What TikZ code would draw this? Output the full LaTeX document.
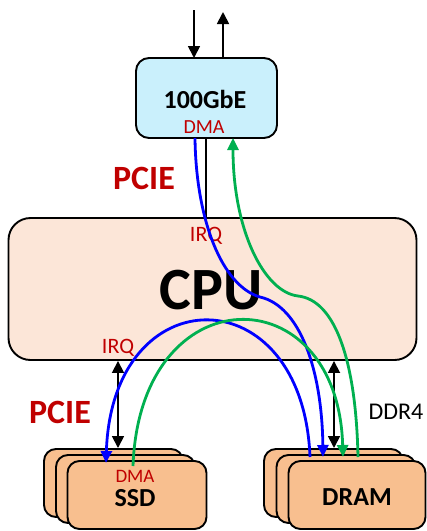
\documentclass[tikz,border=0pt]{standalone}
\usepackage{fontspec}
\setmainfont{Carlito}
\usetikzlibrary{arrows.meta}
\definecolor{cpufill}{HTML}{FCE6D8}
\definecolor{devfill}{HTML}{F8BF8F}
\definecolor{nicfill}{HTML}{CAF0FC}
\definecolor{lblred}{HTML}{C00000}
\definecolor{pathblue}{HTML}{0000FF}
\definecolor{pathgreen}{HTML}{00B050}

\begin{document}
\begin{tikzpicture}[x=1pt,y=-1pt,
  box/.style={draw=black, line width=1.9pt, inner sep=0pt},
  devbox/.style={box, fill=devfill, rounded corners=12pt,
                 minimum width=139pt, minimum height=68pt},
  lbl/.style={inner sep=0pt, text=black},
  redlbl/.style={inner sep=0pt, text=lblred},
  bus/.style={draw=black, line width=1.8pt},
  busarrow/.style={bus, -{Triangle[length=12pt,width=12pt]}},
  busboth/.style={bus, {Triangle[length=12pt,width=12pt]}-{Triangle[length=12pt,width=12pt]}},
  flow/.style={line width=2.8pt, -{Triangle[length=12pt,width=11pt]}},
]
\useasboundingbox (0,0) rectangle (427,531);

% ---- boxes ----
\node[box, fill=cpufill, rounded corners=22pt, minimum width=408pt, minimum height=142pt]
  (cpu) at (212.5,289) {};
\node[box, fill=nicfill, rounded corners=13pt, minimum width=141pt, minimum height=80pt]
  (nic) at (206.5,98) {};

\node[devbox] (ssdA) at (113.5,483) {};
\node[devbox] (ssdB) at (125.5,489) {};
\node[devbox] (ssd)  at (137,495) {};

\node[devbox] (dramA) at (333.5,483) {};
\node[devbox] (dramB) at (346,489) {};
\node[devbox, minimum width=137pt] (dram) at (357,495) {};

% ---- labels ----
\node[lbl, font=\bfseries\fontsize{26}{30}\selectfont] (niclbl) at (205,99) {100GbE};
\node[redlbl, font=\fontsize{20}{22}\selectfont] (nicdma) at (204,127) {DMA};
\node[lbl, font=\bfseries\fontsize{60}{66}\selectfont] (cpulbl) at (211,290) {CPU};
\node[redlbl, font=\fontsize{22}{26}\selectfont] (irqtop) at (206,236) {IRQ};
\node[redlbl, font=\fontsize{22}{26}\selectfont] (irqbot) at (118,348) {IRQ};
\node[redlbl, font=\bfseries\fontsize{34}{40}\selectfont] (pcietop) at (144,178) {PCIE};
\node[redlbl, font=\bfseries\fontsize{34}{40}\selectfont] (pciebot) at (60,412) {PCIE};
\node[lbl, font=\fontsize{24}{27}\selectfont] (ddr) at (396,412) {DDR4};
\node[redlbl, font=\fontsize{19}{22}\selectfont] (ssddma) at (135,476) {DMA};
\node[lbl, font=\bfseries\fontsize{26}{30}\selectfont] (ssdlbl) at (135,498) {SSD};
\node[lbl, font=\bfseries\fontsize{26}{30}\selectfont] (dramlbl) at (357,497) {DRAM};

% ---- network port and buses ----
\coordinate (netin) at (194,10);
\coordinate (netout) at (223,12);
\coordinate (nicin) at (194,58);
\coordinate (nicout) at (223,58);
\draw[busarrow] (netin) -- (nicin);
\draw[busarrow] (nicout) -- (netout);

\draw[bus] (nic.south -| 206,0) -- (cpu.north -| 206,0);
\draw[busboth] (cpu.south -| 118,0) -- (118,448);
\draw[busboth] (cpu.south -| 334,0) -- (334,448);

% ---- data paths ----
\coordinate (nicdmaout) at (195,138);
\coordinate (nicdmain) at (233,138);
\coordinate (dramin1) at (323,457);
\coordinate (dramout1) at (358,457);
\coordinate (dramout2) at (310,457);
\coordinate (dramin2) at (343,457);
\coordinate (ssdin) at (106,463);
\coordinate (ssdout) at (133,466);

% NIC -> DRAM
\draw[flow, pathblue] (nicdmaout) .. controls (196,220) and (222,286) .. (260,297)
  .. controls (300,306) and (322,370) .. (dramin1);
% DRAM -> NIC
\draw[flow, pathgreen] (dramout1) .. controls (356,360) and (335,300) .. (298,296)
  .. controls (264,292) and (233,230) .. (nicdmain);
% DRAM -> SSD
\draw[flow, pathblue] (dramout2) .. controls (303,275) and (112,275) .. (ssdin);
% SSD -> DRAM
\draw[flow, pathgreen] (ssdout) .. controls (140,274) and (338,274) .. (dramin2);
\end{tikzpicture}
\end{document}
